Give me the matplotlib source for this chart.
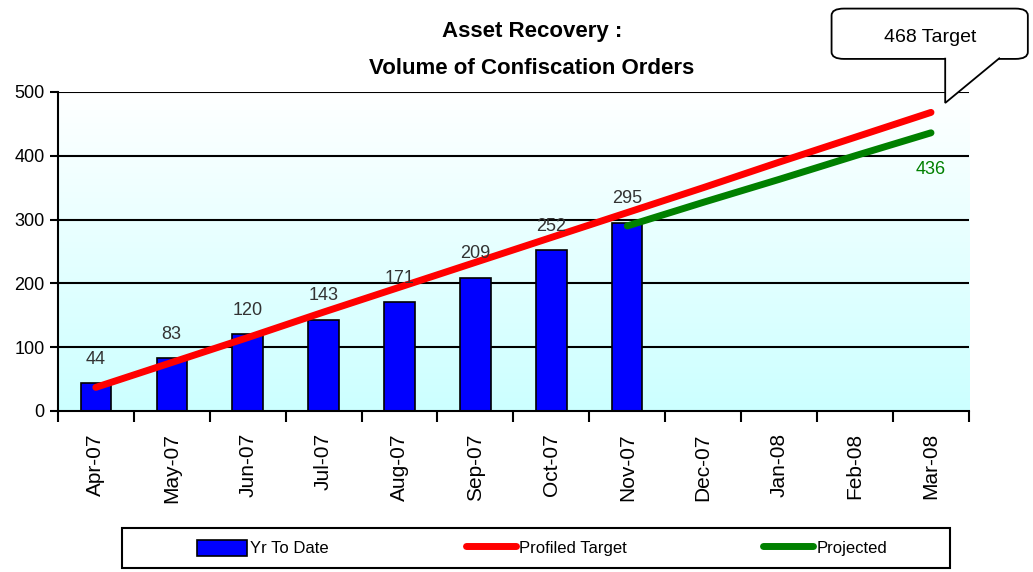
import numpy as np
import matplotlib.pyplot as plt
from matplotlib.patches import Polygon, FancyBboxPatch, Rectangle

months = ["Apr-07", "May-07", "Jun-07", "Jul-07", "Aug-07", "Sep-07",
          "Oct-07", "Nov-07", "Dec-07", "Jan-08", "Feb-08", "Mar-08"]
ytd = [44, 83, 120, 143, 171, 209, 252, 295]
profiled = [37, 76, 115, 155, 194, 233, 272, 311, 350, 390, 429, 468]
projected_months = ["Nov-07", "Dec-07", "Jan-08", "Feb-08", "Mar-08"]
projected = [290, 327, 363, 400, 436]

plt.rcParams["font.family"] = ["Liberation Sans", "DejaVu Sans"]

fig = plt.figure(figsize=(10.33, 5.72), dpi=100)
ax = fig.add_axes([0.056, 0.2815, 0.882, 0.5577])

x = np.arange(len(months))
# gradient background
grad = np.linspace(0, 1, 256).reshape(-1, 1)
top = np.array([1.0, 1.0, 1.0])
bot = np.array([0.80, 1.0, 1.0])
img = top + (bot - top) * grad[:, :, None] * np.ones((1, 1, 3))
ax.imshow(img, extent=[0, 1, 0, 1], transform=ax.transAxes, aspect="auto", zorder=0)

ax.set_xlim(-0.5, len(months) - 0.5)
ax.set_ylim(0, 500)
ax.set_yticks([0, 100, 200, 300, 400, 500])
for v in [100, 200, 300, 400, 500]:
    ax.axhline(v, color="black", lw=1.5, zorder=1)

h_bar = ax.bar(x[:len(ytd)], ytd, width=0.4, color="#0000ff", edgecolor="black",
               lw=1.2, zorder=2)
for xi, v in zip(x, ytd):
    ax.text(xi, v + 24, str(v), ha="center", va="bottom", fontsize=13, color="#333333", zorder=5)

h_red, = ax.plot(x, profiled, color="#ff0000", lw=5, solid_capstyle="round", zorder=3)
px = [months.index(m) for m in projected_months]
h_green, = ax.plot(px, projected, color="#008000", lw=5, solid_capstyle="round", zorder=3)
ax.text(px[-1], projected[-1] - 58, str(projected[-1]), ha="center", va="center",
        fontsize=13, color="#008000")

ax.set_xticks(x)
ax.set_xticklabels(months, rotation=90, fontsize=15, va="top")
ax.set_xticks(np.arange(-0.5, len(months), 1), minor=True)
ax.tick_params(axis="x", which="major", length=0, pad=16)
ax.tick_params(axis="x", which="minor", length=8, width=1.5)
ax.tick_params(axis="y", length=6, width=1.5, labelsize=13)
for s in ["top", "right"]:
    ax.spines[s].set_visible(False)
for s in ["left", "bottom"]:
    ax.spines[s].set_linewidth(1.5)

fig.text(0.515, 0.945, "Asset Recovery :", ha="center", va="center",
         fontsize=16, fontweight="bold")
fig.text(0.515, 0.88, "Volume of Confiscation Orders", ha="center", va="center",
         fontsize=16, fontweight="bold")

# callout
box = FancyBboxPatch((0.805, 0.897), 0.19, 0.088, boxstyle="round,pad=0,rounding_size=0.012",
                     transform=fig.transFigure, fc="white", ec="black", lw=1.3, zorder=5)
fig.add_artist(box)
tail = Polygon([[0.915, 0.899], [0.915, 0.82], [0.968, 0.899]], closed=False,
               transform=fig.transFigure, fc="white", ec="black", lw=1.3, zorder=6)
fig.add_artist(tail)
fig.text(0.9, 0.934, "468 Target", ha="center", va="center", fontsize=14, zorder=7)

# legend
frame = Rectangle((0.118, 0.007), 0.802, 0.07, transform=fig.transFigure,
                  fc="white", ec="black", lw=1.5, zorder=1)
fig.add_artist(frame)
leg = fig.legend([h_bar, h_red, h_green], ["Yr To Date", "Profiled Target", "Projected"],
                 loc="center", bbox_to_anchor=(0.525, 0.042), ncol=3, fontsize=12,
                 frameon=False, handlelength=3.0, handleheight=1.1, handletextpad=0.2,
                 columnspacing=8.2)

fig.savefig("out.png", dpi=100)
